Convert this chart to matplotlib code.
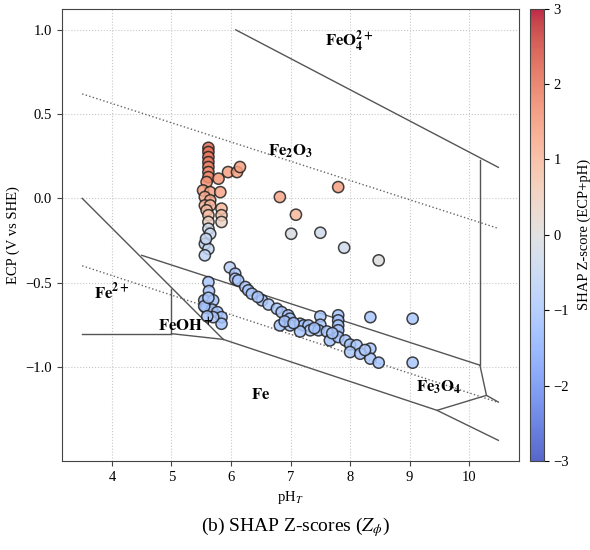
import matplotlib
matplotlib.use('Agg')
import matplotlib.pyplot as plt
import numpy as np

plt.rcParams['font.family'] = 'serif'
plt.rcParams['font.serif'] = ['Liberation Serif', 'DejaVu Serif']
plt.rcParams['mathtext.fontset'] = 'stix'

# measured points: pH, ECP (V vs SHE), SHAP z-score
ph_vals = [
    # upper vertical cluster near pH 5.6
    5.62, 5.62, 5.62, 5.62, 5.62, 5.62, 5.62,
    5.79, 5.95, 6.10, 6.15,
    5.59, 5.53, 5.65, 5.82, 5.56, 5.65, 5.56, 5.65, 5.84, 5.59,
    5.84, 5.62, 5.84, 5.62, 5.62, 5.65, 5.56, 5.62, 5.56, 5.58,
    # scattered points
    6.82, 7.80, 7.09, 7.01, 7.50, 7.90, 8.48,
    # lower vertical cluster
    5.62, 5.63, 5.55, 5.70, 5.58, 5.68, 5.77, 5.84, 5.84, 5.70,
    5.55, 5.62, 5.60,
    # arc
    5.98, 6.07, 6.07, 6.12, 6.24, 6.29, 6.35, 6.52, 6.63, 6.77,
    6.85, 6.96, 6.99, 6.82, 6.99, 7.16, 7.22, 7.30, 7.33, 7.16,
    7.50, 7.50, 7.47, 7.61, 7.66, 7.80, 7.80, 7.80, 7.80, 7.80,
    7.92, 8.00, 8.11, 8.00, 8.17, 8.34, 8.34, 8.48, 8.34, 9.05,
    9.05, 6.45, 6.90, 7.05, 7.40, 7.70, 8.25,
]
ecp_vals = [
    0.300, 0.275, 0.245, 0.215, 0.186, 0.156, 0.126,
    0.117, 0.156, 0.156, 0.186,
    0.097, 0.047, 0.037, 0.037, 0.008, -0.012, -0.042, -0.042, -0.061, -0.071,
    -0.100, -0.100, -0.140, -0.140, -0.180, -0.210, -0.270, -0.300, -0.338, -0.240,
    0.008, 0.067, -0.097, -0.210, -0.204, -0.293, -0.368,
    -0.497, -0.550, -0.605, -0.605, -0.650, -0.660, -0.675, -0.705, -0.744, -0.705,
    -0.640, -0.590, -0.700,
    -0.410, -0.447, -0.477, -0.487, -0.526, -0.546, -0.566, -0.605, -0.630, -0.655,
    -0.675, -0.694, -0.714, -0.754, -0.754, -0.744, -0.754, -0.754, -0.783, -0.790,
    -0.700, -0.750, -0.783, -0.790, -0.843, -0.694, -0.724, -0.754, -0.783, -0.823,
    -0.843, -0.868, -0.872, -0.912, -0.922, -0.892, -0.951, -0.975, -0.705, -0.714,
    -0.975, -0.585, -0.730, -0.740, -0.770, -0.800, -0.900,
]
z_vals = [
    2.1, 2.0, 1.9, 1.9, 1.8, 1.7, 1.7,
    1.5, 1.4, 1.4, 1.4,
    1.6, 1.4, 1.4, 1.3, 1.2, 1.2, 1.1, 1.0, 1.0, 0.9,
    0.8, 0.8, 0.4, 0.4, -0.3, -0.4, -0.6, -0.5, -0.6, -0.5,
    1.3, 1.4, 1.0, -0.1, -0.3, -0.3, 0.0,
    -1.0, -1.0, -1.1, -1.1, -1.1, -1.0, -1.1, -1.1, -1.1, -1.0,
    -1.1, -1.0, -1.0,
    -0.7, -0.9, -0.9, -1.0, -1.0, -1.0, -1.0, -1.0, -0.9, -1.0,
    -1.0, -1.1, -1.1, -1.1, -1.1, -1.1, -1.1, -1.0, -0.8, -1.0,
    -1.0, -1.0, -1.0, -1.0, -1.1, -1.1, -1.1, -1.1, -1.1, -1.1,
    -1.0, -1.0, -1.0, -0.9, -1.1, -1.0, -1.0, -1.1, -1.0, -1.0,
    -1.0, -1.0, -1.1, -1.0, -1.1, -1.0, -0.9,
]

# Pourbaix boundaries (pH, V)
feo4_bound = ([6.08, 10.49], [1.00, 0.184])
right_bound = ([10.18, 10.18], [0.23, -0.99])
o2_line = ([3.5, 10.47], [0.62, -0.176])
h2_line = ([3.5, 10.47], [-0.40, -1.209])
fe2_fe2o3 = ([3.5, 5.87], [0.0, -0.837])
fe2o3_fe3o4 = ([4.5, 10.18], [-0.338, -0.99])
feoh_vert = ([5.0, 5.0], [-0.536, -0.803])
fe2_fe = ([3.5, 5.0], [-0.803, -0.803])
feoh_fe = ([5.0, 5.87], [-0.803, -0.837])
fe_fe3o4 = ([5.87, 9.46, 10.49], [-0.837, -1.258, -1.436])
corner_a = ([10.18, 10.29], [-0.99, -1.169])
corner_b = ([9.46, 10.29, 10.49], [-1.258, -1.169, -1.209])

labels = [
    (r'$\mathbf{FeO_4^{2+}}$', 7.98, 0.93),
    (r'$\mathbf{Fe_2O_3}$', 7.0, 0.28),
    (r'$\mathbf{Fe^{2+}}$', 4.0, -0.56),
    (r'$\mathbf{FeOH^+}$', 5.24, -0.76),
    (r'$\mathbf{Fe}$', 6.49, -1.165),
    (r'$\mathbf{Fe_3O_4}$', 9.48, -1.12),
]

fig = plt.figure(figsize=(5.9, 5.5), dpi=100)
ax = fig.add_axes([0.105, 0.162, 0.775, 0.822])
cax = fig.add_axes([0.898, 0.162, 0.024, 0.822])

ax.grid(True, linestyle=':', color='#c8c8c8', linewidth=0.8)
ax.set_axisbelow(True)

for seg in [feo4_bound, right_bound, fe2_fe2o3, fe2o3_fe3o4, feoh_vert,
            fe2_fe, feoh_fe, fe_fe3o4, corner_a, corner_b]:
    ax.plot(seg[0], seg[1], '-', color='#555555', linewidth=1.0, zorder=2)
for seg in [o2_line, h2_line]:
    ax.plot(seg[0], seg[1], ':', color='#666666', linewidth=1.0, zorder=2)

sc = ax.scatter(ph_vals, ecp_vals, c=z_vals, cmap='coolwarm', vmin=-3, vmax=3,
                s=65, edgecolors='#222222', linewidths=1.1, alpha=0.85, zorder=3)

for txt, x, y in labels:
    ax.text(x, y, txt, ha='center', va='center', fontsize=12, zorder=4)

ax.set_xlim(3.16, 10.84)
ax.set_ylim(-1.558, 1.125)
ax.set_xticks([4, 5, 6, 7, 8, 9, 10])
ax.set_yticks([-1.0, -0.5, 0.0, 0.5, 1.0])
ax.tick_params(labelsize=10.5, length=3.5, color='#444444')
for sp in ax.spines.values():
    sp.set_color('#444444')
ax.set_xlabel(r'pH$_T$', fontsize=10.5)
ax.set_ylabel('ECP (V vs SHE)', fontsize=10.5)

cb = fig.colorbar(sc, cax=cax)
cb.solids.set_alpha(0.85)
cb.set_ticks([-3, -2, -1, 0, 1, 2, 3])
cb.ax.tick_params(labelsize=10.5, length=3.5)
cb.set_label('SHAP Z-score (ECP+pH)', fontsize=10.5, labelpad=6)
cb.outline.set_color('#444444')

fig.text(0.5, 0.042, r'(b) SHAP Z-scores ($Z_\phi$)', ha='center', va='center',
         fontsize=14)

fig.savefig('out.png', dpi=100)
